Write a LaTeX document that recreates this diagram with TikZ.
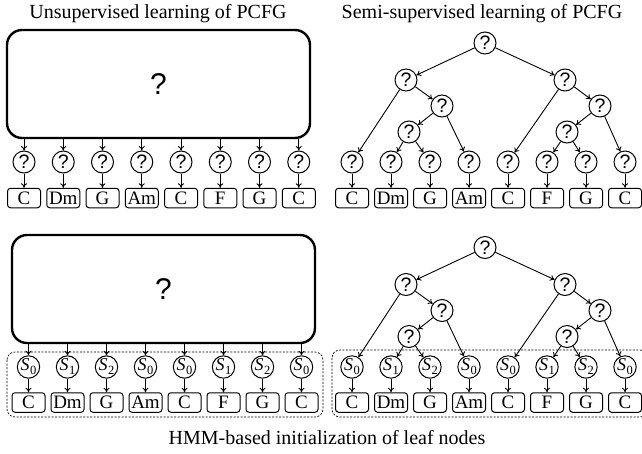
\documentclass[tikz,border=0pt]{standalone}
\usepackage{fontspec}
\setmainfont{Liberation Serif}
\newfontfamily\qfont{Liberation Sans}
\usetikzlibrary{arrows.meta}

% state label: italic S with a lowered index
\newcommand\stlabel[1]{{\itshape S}\kern0.5pt\raisebox{-0.22em}{\fontsize{12.5}{12.5}\selectfont #1}}

\tikzset{
  qstate/.style={circle,draw,line width=1pt,minimum size=22pt,inner sep=0pt,
    font=\qfont\fontsize{19.5}{19.5}\selectfont},
  hstate/.style={circle,draw,line width=1pt,minimum size=22pt,inner sep=0pt,
    font=\fontsize{18}{18}\selectfont},
  chord/.style={draw,rounded corners=3pt,line width=1pt,minimum width=33pt,
    minimum height=19.5pt,inner sep=0pt,font=\fontsize{19}{19}\selectfont},
  bigbox/.style={draw,line width=2.4pt,rounded corners=15pt,minimum width=303pt,
    minimum height=108pt,inner sep=0pt,font=\qfont\fontsize{30}{30}\selectfont},
  arr/.style={-{To[length=4.5pt,width=6pt]},line width=0.9pt},
  title/.style={anchor=base,inner sep=0pt,font=\fontsize{20}{20}\selectfont},
  group/.style={draw,dashed,dash pattern=on 2pt off 1.5pt,line width=0.7pt,rounded corners=8pt}
}

\begin{document}
\begin{tikzpicture}[x=1pt,y=-1pt]
\clip (0,0) rectangle (642,453);

% titles and caption
\node[title] (t1) at (158,18) {Unsupervised learning of PCFG};
\node[title] (t2) at (482,18) {Semi-supervised learning of PCFG};
\node[title] (t3) at (327,444) {HMM-based initialization of leaf nodes};

% ---------- unsupervised panels (big unknown box over the leaves) ----------
\node[bigbox] (aU) at (158.5,84) {?};
\node[bigbox] (bU) at (163.5,289) {?};

\foreach \i/\ch/\s in {1/C/0,2/Dm/1,3/G/2,4/Am/0,5/C/0,6/F/1,7/G/2,8/C/0} {
  \pgfmathsetmacro\xa{24+39.25*(\i-1)}
  \pgfmathsetmacro\xb{28.5+39*(\i-1)}
  % top row: unknown leaf states
  \node[qstate] (aq\i) at (\xa,162) {?};
  \node[chord] (ac\i) at (\xa,198) {\ch};
  \draw[arr] (aU.south -| aq\i) -- (aq\i);
  \draw[arr] (aq\i) -- (ac\i);
  % bottom row: HMM-initialised leaf states
  \node[hstate] (bq\i) at (\xb,367) {\stlabel{\s}};
  \node[chord] (bc\i) at (\xb,402.5) {\ch};
  \draw[arr] (bU.south -| bq\i) -- (bq\i);
  \draw[arr] (bq\i) -- (bc\i);
}
\draw[group] (7,352) rectangle (323,417);

% ---------- semi-supervised panels (tree structure over the leaves) ----------
\foreach \p/\dy in {c/0,d/204.5} {
  \node[qstate] (\p r)  at (485,43+\dy) {?};
  \node[qstate] (\p l1) at (406,80+\dy) {?};
  \node[qstate] (\p r1) at (565,80+\dy) {?};
  \node[qstate] (\p l2) at (442,106+\dy) {?};
  \node[qstate] (\p r2) at (600,106+\dy) {?};
  \node[qstate] (\p l3) at (409,132+\dy) {?};
  \node[qstate] (\p r3) at (567,132+\dy) {?};
}
\foreach \i/\ch/\s in {1/C/0,2/Dm/1,3/G/2,4/Am/0,5/C/0,6/F/1,7/G/2,8/C/0} {
  \pgfmathsetmacro\xc{352+39*(\i-1)}
  \node[qstate] (cq\i) at (\xc,162) {?};
  \node[chord] (cc\i) at (\xc,198) {\ch};
  \draw[arr] (cq\i) -- (cc\i);
  \node[hstate] (dq\i) at (\xc,367) {\stlabel{\s}};
  \node[chord] (dc\i) at (\xc,402.5) {\ch};
  \draw[arr] (dq\i) -- (dc\i);
}
\foreach \p in {c,d} {
  \draw[arr] (\p r) -- (\p l1);
  \draw[arr] (\p r) -- (\p r1);
  \draw[arr] (\p l1) -- (\p q1);
  \draw[arr] (\p l1) -- (\p l2);
  \draw[arr] (\p l2) -- (\p l3);
  \draw[arr] (\p l2) -- (\p q4);
  \draw[arr] (\p l3) -- (\p q2);
  \draw[arr] (\p l3) -- (\p q3);
  \draw[arr] (\p r1) -- (\p q5);
  \draw[arr] (\p r1) -- (\p r2);
  \draw[arr] (\p r2) -- (\p r3);
  \draw[arr] (\p r2) -- (\p q8);
  \draw[arr] (\p r3) -- (\p q6);
  \draw[arr] (\p r3) -- (\p q7);
}
\draw[group] (332,350) rectangle (648,417);
\end{tikzpicture}
\end{document}
